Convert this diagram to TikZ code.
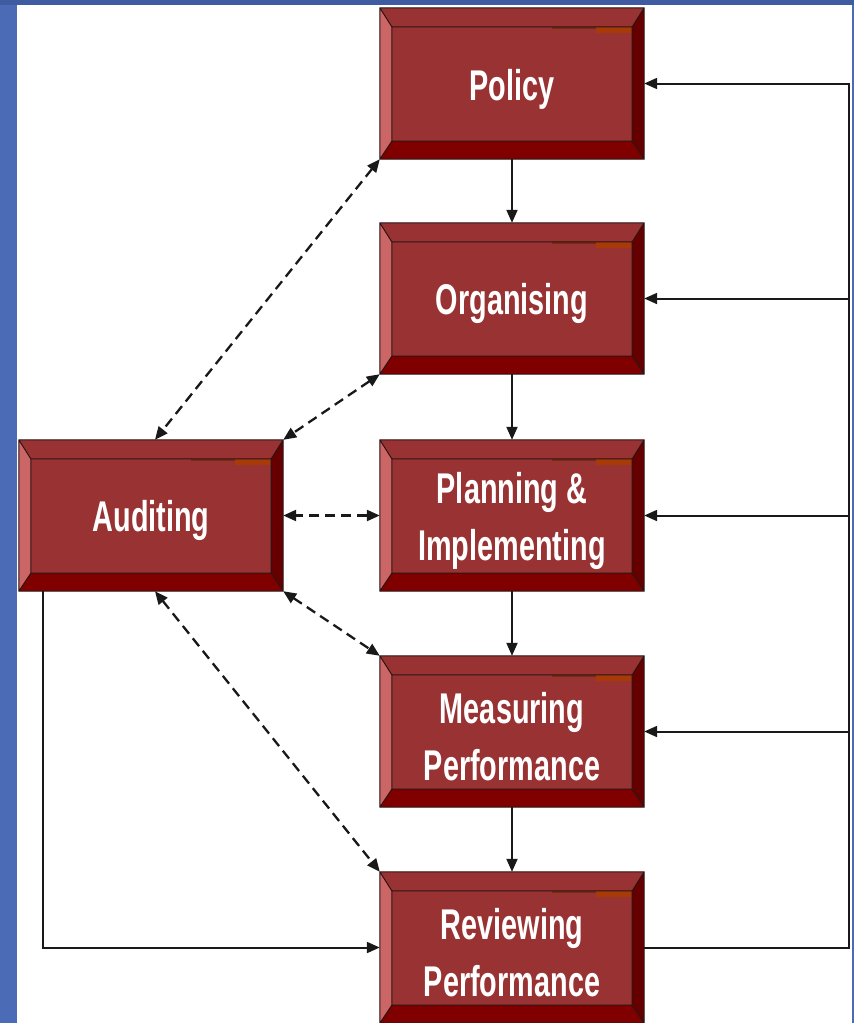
\documentclass[tikz,border=0pt]{standalone}
\usepackage{fontspec}
\newfontfamily\boxfont{Liberation Sans}[FakeStretch=0.67]
\usetikzlibrary{arrows.meta,calc}
\pgfdeclarelayer{bg}\pgfdeclarelayer{bev}\pgfsetlayers{bg,bev,main}
\definecolor{face}{HTML}{993333}
\definecolor{lite}{HTML}{CC6666}
\definecolor{rdark}{HTML}{660000}
\definecolor{bdark}{HTML}{800000}
\definecolor{edgecol}{HTML}{2A1414}
\definecolor{orng}{HTML}{A83A08}
\definecolor{brwn}{HTML}{7A2A10}
\definecolor{bgblue}{HTML}{4C6BB6}
\definecolor{topblue}{HTML}{3F5CA3}
\newcommand\tup{\rule{0pt}{42pt}}
\newcommand\bevel[1]{%
\begin{pgfonlayer}{bev}
\coordinate (#1-a) at (#1.north west);
\coordinate (#1-b) at (#1.north east);
\coordinate (#1-c) at (#1.south east);
\coordinate (#1-d) at (#1.south west);
\coordinate (#1-A) at ($(#1.north west)+(12,19)$);
\coordinate (#1-B) at ($(#1.north east)+(-12,19)$);
\coordinate (#1-C) at ($(#1.south east)+(-12,-18)$);
\coordinate (#1-D) at ($(#1.south west)+(12,-18)$);
\fill[face] (#1-a) -- (#1-b) -- (#1-B) -- (#1-A) -- cycle;
\fill[lite] (#1-a) -- (#1-A) -- (#1-D) -- (#1-d) -- cycle;
\fill[rdark] (#1-b) -- (#1-c) -- (#1-C) -- (#1-B) -- cycle;
\fill[bdark] (#1-d) -- (#1-D) -- (#1-C) -- (#1-c) -- cycle;
\fill[face] (#1-A) rectangle (#1-C);
\fill[orng] ($(#1-B)+(-36,0)$) rectangle ($(#1-B)+(0,6)$);
\fill[brwn] ($(#1-B)+(-80,0)$) rectangle ($(#1-B)+(-36,2)$);
\draw[edgecol,line width=1pt] (#1-a) -- (#1-b) -- (#1-c) -- (#1-d) -- cycle
  (#1-A) -- (#1-B) -- (#1-C) -- (#1-D) -- cycle
  (#1-a) -- (#1-A) (#1-b) -- (#1-B) (#1-c) -- (#1-C) (#1-d) -- (#1-D);
\end{pgfonlayer}}
\tikzset{
  box/.style={rectangle, inner sep=0pt, minimum width=264pt, minimum height=151pt,
    text=white, align=center, font=\boxfont\bfseries\fontsize{43}{57}\selectfont},
  ln/.style={line width=2pt, draw=black!90},
  arr/.style={ln, -{Triangle[length=13pt,width=11pt]}},
  dsh/.style={line width=2.3pt, draw=black!90, dash pattern=on 10pt off 6pt,
    {Triangle[length=13pt,width=11pt]}-{Triangle[length=13pt,width=11pt]}}
}
\begin{document}
\begin{tikzpicture}[x=1pt,y=-1pt]
\useasboundingbox (0,0) rectangle (854,1023);
\begin{pgfonlayer}{bg}
\fill[bgblue] (0,0) rectangle (854,1023);
\fill[topblue] (0,0) rectangle (854,5);
\fill[white] (17,5) rectangle (852,1023);
\end{pgfonlayer}
\node[box] (pol) at (512,83.5) {\tup Policy};
\node[box] (org) at (512,298.5) {\tup Organising};
\node[box] (pla) at (512,515.5) {\tup Planning \&\\Implementing};
\node[box] (mea) at (512,731.5) {\tup Measuring\\Performance};
\node[box] (rev) at (512,947.5) {\tup Reviewing\\Performance};
\node[box] (aud) at (151,515.5) {\tup Auditing};
\bevel{pol}\bevel{org}\bevel{pla}\bevel{mea}\bevel{rev}\bevel{aud}
\coordinate (rx) at (849,0);
\coordinate (lx) at (43,0);
% vertical chain
\draw[arr] (pol) -- (org);
\draw[arr] (org) -- (pla);
\draw[arr] (pla) -- (mea);
\draw[arr] (mea) -- (rev);
% feedback on right
\draw[arr] (rev.east) -| (rx |- pol.east) -- (pol.east);
\draw[arr] (rx |- org.east) -- (org.east);
\draw[arr] (rx |- pla.east) -- (pla.east);
\draw[arr] (rx |- mea.east) -- (mea.east);
% auditing to reviewing
\draw[arr] (aud.south -| lx) |- (rev.west);
% dashed links
\draw[dsh] (pol.south west) -- ($(aud.north)+(4,0)$);
\draw[dsh] (org.south west) -- (aud.north east);
\draw[dsh] (pla.west) -- (aud.east);
\draw[dsh] (aud.south east) -- (mea.north west);
\draw[dsh] ($(aud.south)+(4,0)$) -- (rev.north west);
\end{tikzpicture}
\end{document}
